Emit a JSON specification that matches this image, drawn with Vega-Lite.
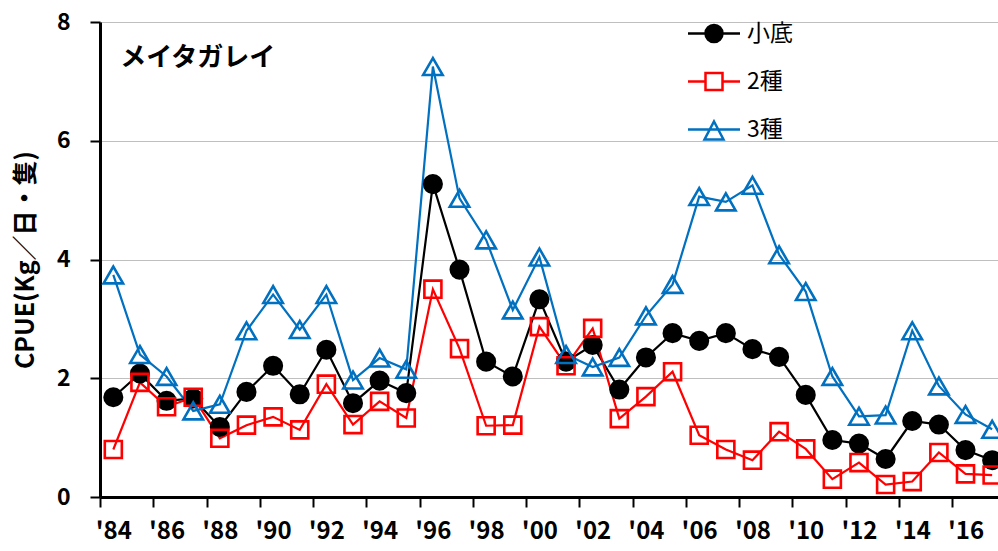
{
  "$schema": "https://vega.github.io/schema/vega-lite/v6.json",
  "width": 898,
  "height": 475,
  "autosize": {"type": "none"},
  "padding": {"left": 100, "top": 22, "right": 0, "bottom": 54},
  "config": {"view": {"stroke": null}, "font": "Noto Sans CJK JP"},
  "datasets": {
    "cpue": [
      {"year": 1984, "series": "小底", "v": 1.68}, {"year": 1985, "series": "小底", "v": 2.08}, {"year": 1986, "series": "小底", "v": 1.62}, {"year": 1987, "series": "小底", "v": 1.66}, {"year": 1988, "series": "小底", "v": 1.18}, {"year": 1989, "series": "小底", "v": 1.77}, {"year": 1990, "series": "小底", "v": 2.21}, {"year": 1991, "series": "小底", "v": 1.73}, {"year": 1992, "series": "小底", "v": 2.48}, {"year": 1993, "series": "小底", "v": 1.58}, {"year": 1994, "series": "小底", "v": 1.96}, {"year": 1995, "series": "小底", "v": 1.75}, {"year": 1996, "series": "小底", "v": 5.27}, {"year": 1997, "series": "小底", "v": 3.83}, {"year": 1998, "series": "小底", "v": 2.28}, {"year": 1999, "series": "小底", "v": 2.03}, {"year": 2000, "series": "小底", "v": 3.33}, {"year": 2001, "series": "小底", "v": 2.28}, {"year": 2002, "series": "小底", "v": 2.56}, {"year": 2003, "series": "小底", "v": 1.81}, {"year": 2004, "series": "小底", "v": 2.35}, {"year": 2005, "series": "小底", "v": 2.76}, {"year": 2006, "series": "小底", "v": 2.63}, {"year": 2007, "series": "小底", "v": 2.76}, {"year": 2008, "series": "小底", "v": 2.49}, {"year": 2009, "series": "小底", "v": 2.36}, {"year": 2010, "series": "小底", "v": 1.72}, {"year": 2011, "series": "小底", "v": 0.96}, {"year": 2012, "series": "小底", "v": 0.90}, {"year": 2013, "series": "小底", "v": 0.64}, {"year": 2014, "series": "小底", "v": 1.28}, {"year": 2015, "series": "小底", "v": 1.22}, {"year": 2016, "series": "小底", "v": 0.79}, {"year": 2017, "series": "小底", "v": 0.62},
      {"year": 1984, "series": "2種", "v": 0.80}, {"year": 1985, "series": "2種", "v": 1.93}, {"year": 1986, "series": "2種", "v": 1.52}, {"year": 1987, "series": "2種", "v": 1.68}, {"year": 1988, "series": "2種", "v": 0.99}, {"year": 1989, "series": "2種", "v": 1.21}, {"year": 1990, "series": "2種", "v": 1.35}, {"year": 1991, "series": "2種", "v": 1.13}, {"year": 1992, "series": "2種", "v": 1.90}, {"year": 1993, "series": "2種", "v": 1.22}, {"year": 1994, "series": "2種", "v": 1.61}, {"year": 1995, "series": "2種", "v": 1.33}, {"year": 1996, "series": "2種", "v": 3.50}, {"year": 1997, "series": "2種", "v": 2.50}, {"year": 1998, "series": "2種", "v": 1.20}, {"year": 1999, "series": "2種", "v": 1.21}, {"year": 2000, "series": "2種", "v": 2.87}, {"year": 2001, "series": "2種", "v": 2.21}, {"year": 2002, "series": "2種", "v": 2.84}, {"year": 2003, "series": "2種", "v": 1.32}, {"year": 2004, "series": "2種", "v": 1.69}, {"year": 2005, "series": "2種", "v": 2.11}, {"year": 2006, "series": "2種", "v": 1.04}, {"year": 2007, "series": "2種", "v": 0.80}, {"year": 2008, "series": "2種", "v": 0.62}, {"year": 2009, "series": "2種", "v": 1.10}, {"year": 2010, "series": "2種", "v": 0.81}, {"year": 2011, "series": "2種", "v": 0.30}, {"year": 2012, "series": "2種", "v": 0.58}, {"year": 2013, "series": "2種", "v": 0.21}, {"year": 2014, "series": "2種", "v": 0.26}, {"year": 2015, "series": "2種", "v": 0.75}, {"year": 2016, "series": "2種", "v": 0.39}, {"year": 2017, "series": "2種", "v": 0.37},
      {"year": 1984, "series": "3種", "v": 3.74}, {"year": 1985, "series": "3種", "v": 2.40}, {"year": 1986, "series": "3種", "v": 2.03}, {"year": 1987, "series": "3種", "v": 1.45}, {"year": 1988, "series": "3種", "v": 1.56}, {"year": 1989, "series": "3種", "v": 2.80}, {"year": 1990, "series": "3種", "v": 3.41}, {"year": 1991, "series": "3種", "v": 2.82}, {"year": 1992, "series": "3種", "v": 3.41}, {"year": 1993, "series": "3種", "v": 1.97}, {"year": 1994, "series": "3種", "v": 2.34}, {"year": 1995, "series": "3種", "v": 2.15}, {"year": 1996, "series": "3種", "v": 7.25}, {"year": 1997, "series": "3種", "v": 5.03}, {"year": 1998, "series": "3種", "v": 4.33}, {"year": 1999, "series": "3種", "v": 3.15}, {"year": 2000, "series": "3種", "v": 4.04}, {"year": 2001, "series": "3種", "v": 2.40}, {"year": 2002, "series": "3種", "v": 2.19}, {"year": 2003, "series": "3種", "v": 2.35}, {"year": 2004, "series": "3種", "v": 3.05}, {"year": 2005, "series": "3種", "v": 3.58}, {"year": 2006, "series": "3種", "v": 5.06}, {"year": 2007, "series": "3種", "v": 4.97}, {"year": 2008, "series": "3種", "v": 5.25}, {"year": 2009, "series": "3種", "v": 4.08}, {"year": 2010, "series": "3種", "v": 3.46}, {"year": 2011, "series": "3種", "v": 2.03}, {"year": 2012, "series": "3種", "v": 1.36}, {"year": 2013, "series": "3種", "v": 1.38}, {"year": 2014, "series": "3種", "v": 2.80}, {"year": 2015, "series": "3種", "v": 1.87}, {"year": 2016, "series": "3種", "v": 1.39}, {"year": 2017, "series": "3種", "v": 1.14}
    ]
  },
  "layer": [
    {
      "data": {"name": "cpue"},
      "mark": {"type": "line", "strokeWidth": 2.2},
      "encoding": {
        "x": {
          "field": "year", "type": "quantitative",
          "scale": {"domain": [1983.5, 2017.22], "nice": false, "zero": false},
          "axis": {
            "values": [1983.5, 1985.5, 1987.5, 1989.5, 1991.5, 1993.5, 1995.5, 1997.5, 1999.5, 2001.5, 2003.5, 2005.5, 2007.5, 2009.5, 2011.5, 2013.5, 2015.5],
            "labelExpr": "\"'\" + slice(toString(datum.value + 0.5), 2)",
            "labelOffset": 13.3,
            "title": null, "grid": false,
            "domainColor": "#000", "domainWidth": 3,
            "tickColor": "#000", "tickWidth": 2, "tickSize": 10,
            "labelFontSize": 24, "labelFontWeight": 600, "labelColor": "#000",
            "labelPadding": 12, "labelFlush": false, "labelOverlap": false, "labelBound": false
          }
        },
        "y": {
          "field": "v", "type": "quantitative",
          "scale": {"domain": [0, 8], "nice": false},
          "axis": {
            "values": [0, 2, 4, 6, 8], "format": "d",
            "title": "CPUE(Kg／日・隻)", "titleFontSize": 25, "titleFontWeight": "bold", "titleColor": "#000", "titlePadding": 18,
            "grid": true, "gridColor": "#bfbfbf", "gridWidth": 1,
            "domainColor": "#000", "domainWidth": 3,
            "tickColor": "#000", "tickWidth": 2, "tickSize": 10,
            "labelFontSize": 23, "labelFontWeight": "bold", "labelColor": "#000", "labelPadding": 20
          }
        },
        "color": {
          "field": "series", "type": "nominal",
          "scale": {"domain": ["小底", "2種", "3種"], "range": ["#000000", "#ff0000", "#0070c0"]},
          "sort": null,
          "legend": {
            "orient": "none", "legendX": 602.5, "legendY": 0,
            "title": null, "padding": 0,
            "symbolSize": 100, "symbolStrokeWidth": 2.5,
            "labelFontSize": 23, "labelColor": "#000", "labelOffset": 21.5, "rowPadding": 21,
            "labelFont": "Noto Sans CJK JP",
            "encode": {
              "symbols": {
                "update": {
                  "shape": {"signal": "datum.value === '小底' ? 'M-5.2,0H5.2M1.7,0A1.7,1.7 0 1,1 -1.7,0A1.7,1.7 0 1,1 1.7,0Z' : datum.value === '2種' ? 'M-5.2,0H-1.7M1.7,0H5.2M-1.7,-1.7H1.7V1.7H-1.7Z' : 'M-5.2,0H5.2M0,-1.6L1.9,2H-1.9Z'"},
                  "size": {"value": 100},
                  "fill": {"signal": "datum.value === '小底' ? '#000000' : 'transparent'"},
                  "stroke": {"signal": "datum.value === '小底' ? '#000000' : datum.value === '2種' ? '#ff0000' : '#0070c0'"},
                  "strokeWidth": {"value": 2.5},
                  "opacity": {"value": 1}
                }
              }
            }
          }
        }
      }
    },
    {
      "data": {"name": "cpue"},
      "transform": [{"filter": "datum.series === '小底'"}],
      "mark": {"type": "point", "shape": "circle", "size": 310, "filled": true, "fill": "#000000", "stroke": "#000000", "strokeWidth": 2.5, "opacity": 1},
      "encoding": {
        "x": {"field": "year", "type": "quantitative"},
        "y": {"field": "v", "type": "quantitative"}
      }
    },
    {
      "data": {"name": "cpue"},
      "transform": [{"filter": "datum.series === '2種'"}],
      "mark": {"type": "point", "shape": "square", "size": 290, "filled": false, "stroke": "#ff0000", "strokeWidth": 2.6, "opacity": 1},
      "encoding": {
        "x": {"field": "year", "type": "quantitative"},
        "y": {"field": "v", "type": "quantitative"}
      }
    },
    {
      "data": {"name": "cpue"},
      "transform": [{"filter": "datum.series === '3種'"}],
      "mark": {"type": "point", "shape": "triangle-up", "size": 380, "filled": false, "stroke": "#0070c0", "strokeWidth": 2.6, "opacity": 1},
      "encoding": {
        "x": {"field": "year", "type": "quantitative"},
        "y": {"field": "v", "type": "quantitative"}
      }
    },
    {
      "data": {"values": [{"year": 1984, "v": 7.4, "label": "メイタガレイ"}]},
      "mark": {"type": "text", "align": "left", "baseline": "middle", "dx": 7, "fontSize": 26, "fontWeight": "bold", "color": "#000"},
      "encoding": {
        "x": {"field": "year", "type": "quantitative"},
        "y": {"field": "v", "type": "quantitative"},
        "text": {"field": "label"}
      }
    }
  ]
}
